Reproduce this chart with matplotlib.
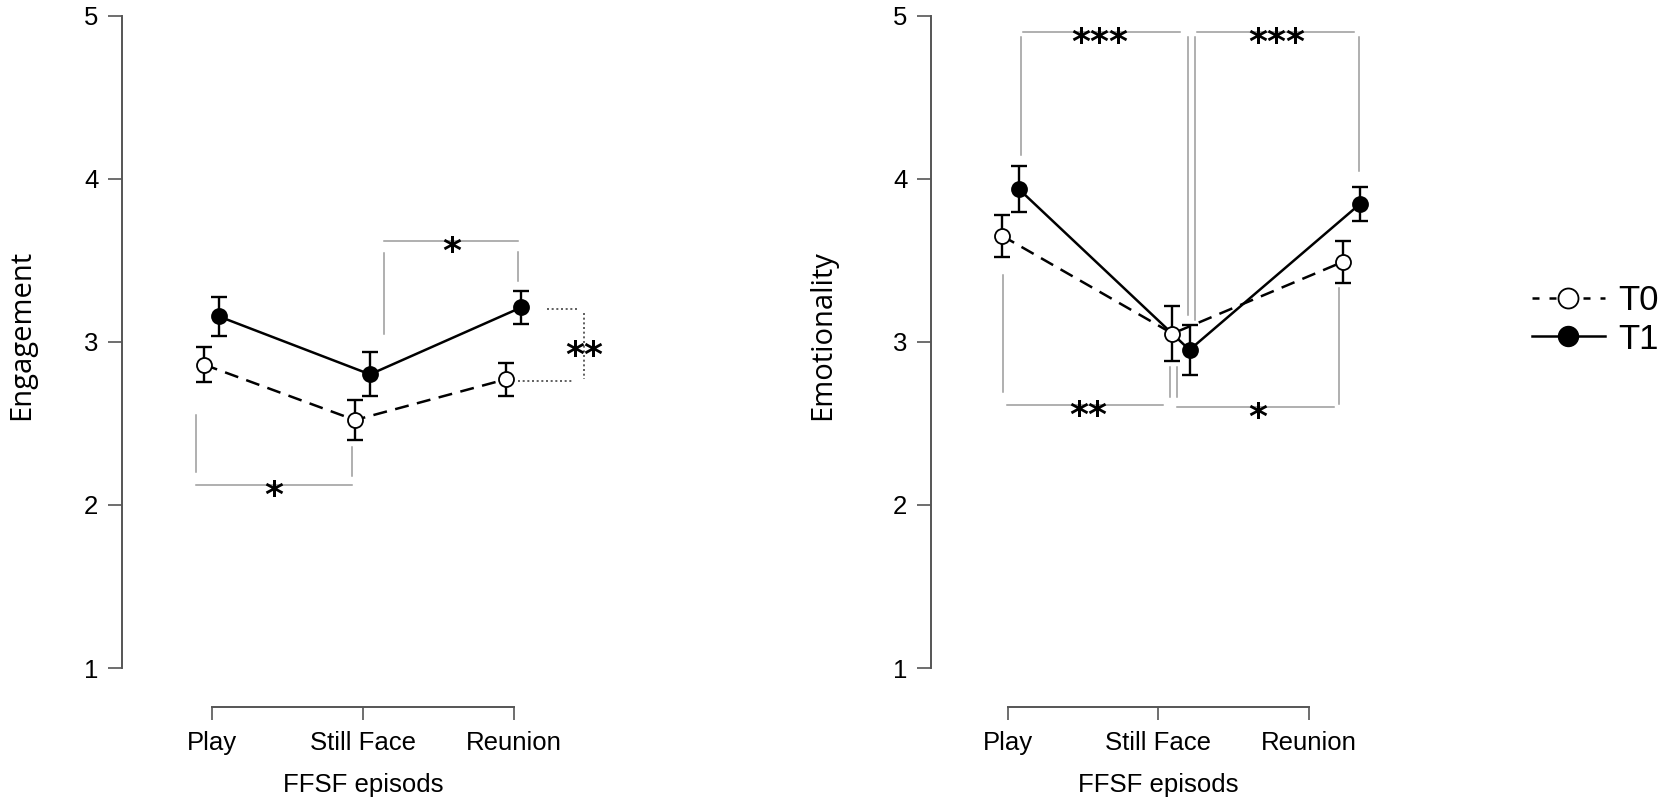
import numpy as np
import matplotlib
matplotlib.use("Agg")
import matplotlib.pyplot as plt
from matplotlib.lines import Line2D

# ---------------- data ----------------
episodes = ["Play", "Still Face", "Reunion"]
x_title = "FFSF episods"
series_names = ["T0", "T1"]
y_ticks = [1, 2, 3, 4, 5]

engagement_t0 = [2.86, 2.52, 2.77]
engagement_t0_err = [0.105, 0.125, 0.10]
engagement_t1 = [3.155, 2.80, 3.21]
engagement_t1_err = [0.12, 0.135, 0.10]

emotionality_t0 = [3.65, 3.05, 3.49]
emotionality_t0_err = [0.13, 0.17, 0.13]
emotionality_t1 = [3.935, 2.95, 3.845]
emotionality_t1_err = [0.14, 0.155, 0.105]

# significance brackets (data coords): left vertical (x, y0, y1), right vertical (x, y0, y1),
# horizontal (y, x0, x1), label, label x
engagement_brackets = [
    dict(a=(-0.103, 2.553, 2.204), b=(0.930, 2.357, 2.179), h=(2.124, -0.103, 0.930), label="*", lx=0.41),
    dict(a=(1.142, 3.545, 3.049), b=(2.030, 3.551, 3.374), h=(3.619, 1.142, 2.030), label="*", lx=1.59),
]
engagement_dotted = dict(top=(3.202, 2.222, 2.421), bottom=(2.761, 2.030, 2.394),
                         v=(2.467, 3.176, 2.773), label="**", ly=2.98)
emotionality_brackets = [
    dict(a=(0.062, 4.87, 4.145), b=(1.041, 4.868, 3.165), h=(4.90, 0.073, 0.994), label="***", lx=0.525),
    dict(a=(1.083, 4.868, 3.135), b=(2.044, 4.868, 4.047), h=(4.90, 1.095, 2.016), label="***", lx=1.564),
    dict(a=(-0.044, 3.41, 2.694), b=(0.937, 2.847, 2.663), h=(2.614, -0.02, 0.895), label="**", lx=0.455),
    dict(a=(0.977, 2.847, 2.663), b=(1.927, 3.33, 2.62), h=(2.602, 0.977, 1.897), label="*", lx=1.452),
]

# ---------------- layout (pixels) ----------------
W, H = 1665, 809
TOP, BOT = 15.5, 668.0      # y=5 and y=1
XAX_Y = 707.0
DODGE = 0.05
AXC = "#555555"
BRC = "#9a9a9a"
SANS = "Liberation Sans"

panels = [
    dict(ylabel="Engagement", t0=engagement_t0, t0e=engagement_t0_err, t1=engagement_t1, t1e=engagement_t1_err,
         brackets=engagement_brackets, dotted=engagement_dotted,
         yaxis=122, right=620, cat0=211.5, step=151.0, tick0=212.0, tstep=151.0, ylab_x=22),
    dict(ylabel="Emotionality", t0=emotionality_t0, t0e=emotionality_t0_err, t1=emotionality_t1, t1e=emotionality_t1_err,
         brackets=emotionality_brackets, dotted=None,
         yaxis=931, right=1420, cat0=1010.5, step=170.5, tick0=1008.0, tstep=150.5, ylab_x=823),
]


def fbox(l, t, r, b):
    return [l / W, 1 - b / H, (r - l) / W, (b - t) / H]


fig = plt.figure(figsize=(W / 100, H / 100), dpi=100)
fig.patch.set_facecolor("white")

LW = 1.8
DASH = (5.6, 3.4)


def star(ax, x, y, s):
    fs = 26
    ax.annotate(s, xy=(x, y), xytext=(0, -0.58 * fs), textcoords="offset points",
                ha="center", va="baseline", fontsize=fs, family="DejaVu Sans", fontweight="bold",
                color="black", annotation_clip=False, zorder=5)


for p in panels:
    ax = fig.add_axes(fbox(p["yaxis"], TOP, p["right"], BOT))
    ax.set_xlim((p["yaxis"] - p["cat0"]) / p["step"], (p["right"] - p["cat0"]) / p["step"])
    ax.set_ylim(1, 5)
    ax.patch.set_alpha(0)
    for s in ["top", "right", "bottom"]:
        ax.spines[s].set_visible(False)
    ax.spines["left"].set_bounds(1, 5)
    ax.spines["left"].set_color(AXC)
    ax.spines["left"].set_linewidth(1.4)
    ax.set_yticks(y_ticks)
    ax.set_yticklabels([str(v) for v in y_ticks], family=SANS)
    ax.tick_params(axis="y", direction="out", length=10, width=1.2, color=AXC,
                   labelsize=18.5, pad=7, labelcolor="black")
    ax.set_xticks([])

    xs = np.arange(len(episodes))
    for vals, errs, off, fill, dashed in [(p["t0"], p["t0e"], -DODGE, "white", True),
                                           (p["t1"], p["t1e"], DODGE, "black", False)]:
        xx = xs + off
        ax.errorbar(xx, vals, yerr=errs, fmt="none", ecolor="black", elinewidth=1.7,
                    capsize=5.6, capthick=1.7, zorder=2)
        if dashed:
            ax.plot(xx, vals, color="black", lw=LW, dashes=DASH, zorder=3)
        else:
            ax.plot(xx, vals, color="black", lw=LW, zorder=3)
        ax.plot(xx, vals, linestyle="none", marker="o", ms=10.8, mfc=fill, mec="black",
                mew=1.3, zorder=4)

    for br in p["brackets"]:
        xa, ya0, ya1 = br["a"]
        xb, yb0, yb1 = br["b"]
        yh, xh0, xh1 = br["h"]
        kw = dict(color=BRC, lw=1.1, clip_on=False, zorder=1)
        ax.plot([xa, xa], [ya0, ya1], **kw)
        ax.plot([xb, xb], [yb0, yb1], **kw)
        ax.plot([xh0, xh1], [yh, yh], **kw)
        star(ax, br["lx"], yh, br["label"])

    d = p["dotted"]
    if d is not None:
        kw = dict(color="#444444", lw=1.2, linestyle=(0, (1.2, 1.6)), clip_on=False, zorder=1)
        ax.plot([d["top"][1], d["top"][2]], [d["top"][0]] * 2, **kw)
        ax.plot([d["bottom"][1], d["bottom"][2]], [d["bottom"][0]] * 2, **kw)
        ax.plot([d["v"][0]] * 2, [d["v"][1], d["v"][2]], **kw)
        star(ax, d["v"][0], d["ly"], d["label"])

    fig.text(p["ylab_x"] / W, 1 - 335 / H, p["ylabel"], rotation=90, ha="center", va="center",
             fontsize=21, family="Open Sans")

    # category axis
    cl = p["tick0"] - 0.5 * p["tstep"]
    cr = p["tick0"] + (len(episodes) - 0.5) * p["tstep"]
    cax = fig.add_axes(fbox(cl, XAX_Y - 1, cr, XAX_Y))
    cax.set_xlim(-0.5, len(episodes) - 0.5)
    cax.patch.set_alpha(0)
    for s in ["top", "right", "left"]:
        cax.spines[s].set_visible(False)
    cax.spines["bottom"].set_bounds(0, len(episodes) - 1)
    cax.spines["bottom"].set_color(AXC)
    cax.spines["bottom"].set_linewidth(1.4)
    cax.set_yticks([])
    cax.set_xticks(xs)
    cax.set_xticklabels(episodes, family=SANS)
    cax.tick_params(axis="x", direction="out", length=9.4, width=1.2, color=AXC,
                    labelsize=18.5, pad=8)
    cax.set_xlabel(x_title, fontsize=18.5, family=SANS, labelpad=13)

handles = [
    Line2D([], [], color="black", lw=LW, dashes=(2.8, 4.0), marker="o", ms=14.4,
           mfc="white", mec="black", mew=1.3),
    Line2D([], [], color="black", lw=LW, marker="o", ms=14.4, mfc="black", mec="black"),
]
fig.legend(handles, series_names, loc="center left", bbox_to_anchor=(1532 / W, 1 - 320 / H),
           frameon=False, borderpad=0, borderaxespad=0, handlelength=2.1, handletextpad=0.37,
           labelspacing=0.15, prop=dict(family=SANS, size=25))

fig.savefig("out.png", dpi=100, facecolor="white")
